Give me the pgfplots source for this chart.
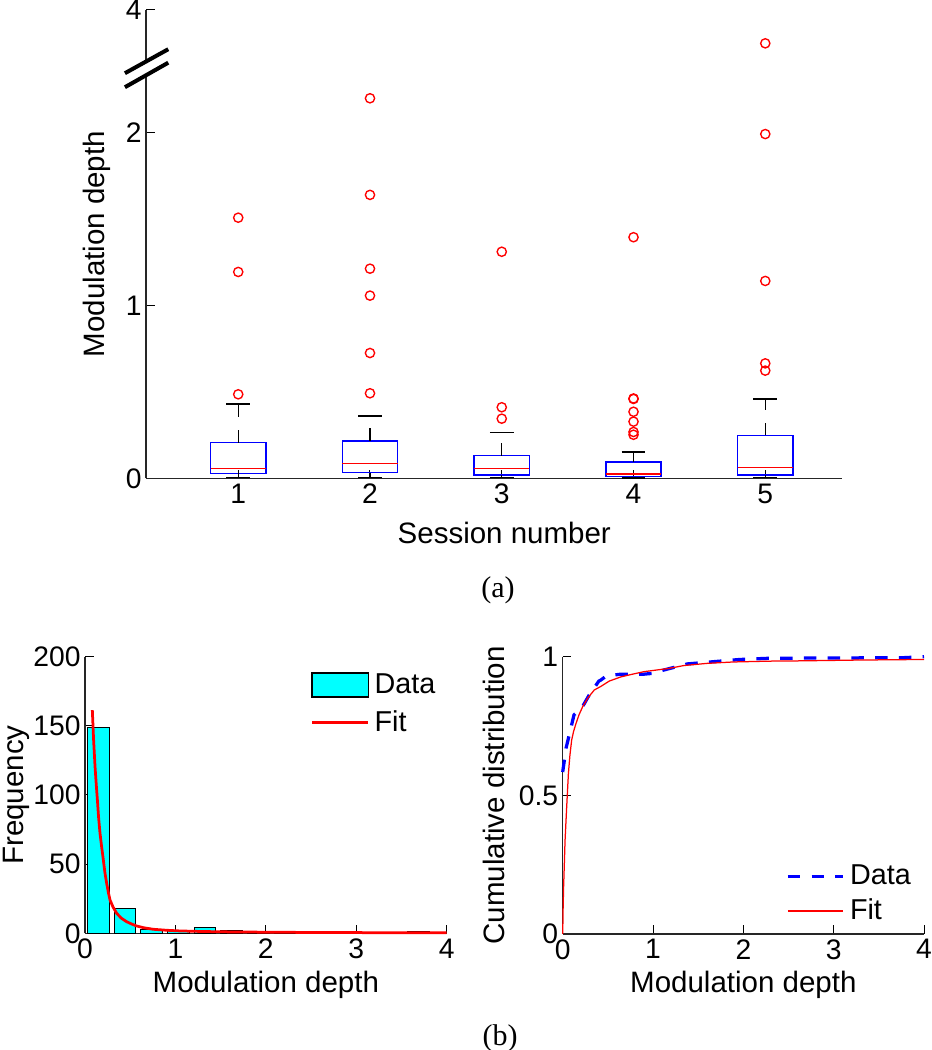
\documentclass[border=0pt]{standalone}
\usepackage{fontspec}
\setmainfont{Liberation Sans}
\newfontfamily\seriffont{Liberation Serif}
\usepackage{pgfplots}
\pgfplotsset{compat=1.18}
\usepgfplotslibrary{statistics}
\definecolor{mcyan}{RGB}{0,255,255}
\definecolor{mblue}{RGB}{0,0,255}
\definecolor{mred}{RGB}{255,0,0}
\newcommand{\labfont}{\fontsize{11.8}{13.5}\selectfont}
\pgfplotsset{
  mystyle/.style={
    scale only axis,
    axis x line*=bottom, axis y line*=left,
    tick align=inside, major tick length=3.4pt,
    tick style={black,line width=0.4pt},
    axis line style={black!85,line width=0.6pt},
    every tick label/.append style={font=\fontsize{11.3}{13}\selectfont},
    xticklabel style={inner sep=2pt},
    yticklabel style={inner sep=1.6pt},
    /pgf/number format/assume math mode=true,
    clip=false,
  },
  patchleg/.style={legend image code/.code={\draw[fill=mcyan,draw=black,line width=0.5pt] (0cm,-0.17cm) rectangle (0.79cm,0.17cm);}},
  redthickleg/.style={legend image code/.code={\draw[mred,line width=1.1pt] (0cm,0cm) -- (0.79cm,0cm);}},
  bluedashleg/.style={legend image code/.code={\draw[mblue,line width=1.3pt,dash pattern=on 5pt off 4.5pt] (0cm,0cm) -- (0.78cm,0cm);}},
  redthinleg/.style={legend image code/.code={\draw[mred,line width=0.5pt] (0cm,0cm) -- (0.78cm,0cm);}},
  whisk/.style={black, line width=0.45pt, dash pattern=on 5pt off 5.3pt},
  cap/.style={black, line width=0.5pt},
}
\begin{document}
\begin{tikzpicture}
\path[use as bounding box] (0pt,0pt) rectangle (372.4pt,420pt);
% ---------------- (a) box plot ----------------
\begin{axis}[mystyle,
  at={(58.4pt,228.68pt)}, anchor=south west,
  width=278.28pt, height=187.32pt,
  xmin=0.3, xmax=5.58, ymin=0, ymax=2.71,
  xtick={1,2,3,4,5}, ytick={0,1,2,2.71}, yticklabels={0,1,2,4},
  xlabel={Session number}, ylabel={Modulation depth},
  every axis x label/.style={at={(axis description cs:0.515,-0.117)},anchor=center,font=\labfont},
  every axis y label/.style={at={(axis description cs:-0.0704,0.5)},rotate=90,anchor=center,font=\labfont},
  boxplot/draw direction=y,
  boxplot/box extend=0.42,
  boxplot/whisker extend=0.18,
  boxplot/every box/.style={draw=mblue,line width=0.6pt},
  boxplot/every median/.style={draw=mred,line width=0.55pt},
  boxplot/every whisker/.style={draw=none},
]
% boxes and medians
\addplot[boxplot prepared={draw position=1, lower whisker=0.003, lower quartile=0.029, median=0.058, upper quartile=0.206, upper whisker=0.43}] coordinates {};
\addplot[boxplot prepared={draw position=2, lower whisker=0.003, lower quartile=0.033, median=0.087, upper quartile=0.216, upper whisker=0.36}] coordinates {};
\addplot[boxplot prepared={draw position=3, lower whisker=0.003, lower quartile=0.019, median=0.056, upper quartile=0.131, upper whisker=0.264}] coordinates {};
\addplot[boxplot prepared={draw position=4, lower whisker=0.002, lower quartile=0.009, median=0.025, upper quartile=0.094, upper whisker=0.152}] coordinates {};
\addplot[boxplot prepared={draw position=5, lower whisker=0.003, lower quartile=0.019, median=0.061, upper quartile=0.249, upper whisker=0.459}] coordinates {};
% whiskers (dashed) from the quartiles to the whisker ends
\addplot[whisk] coordinates {(1,0.206) (1,0.43)};
\addplot[whisk] coordinates {(1,0.029) (1,0.003)};
\addplot[whisk] coordinates {(2,0.216) (2,0.36)};
\addplot[whisk] coordinates {(2,0.033) (2,0.003)};
\addplot[whisk] coordinates {(3,0.131) (3,0.264)};
\addplot[whisk] coordinates {(3,0.019) (3,0.003)};
\addplot[whisk] coordinates {(4,0.094) (4,0.152)};
\addplot[whisk] coordinates {(4,0.009) (4,0.002)};
\addplot[whisk] coordinates {(5,0.249) (5,0.459)};
\addplot[whisk] coordinates {(5,0.019) (5,0.003)};
% whisker caps
\addplot[cap] coordinates {(0.91,0.43) (1.09,0.43)};
\addplot[cap] coordinates {(0.91,0.003) (1.09,0.003)};
\addplot[cap] coordinates {(1.91,0.36) (2.09,0.36)};
\addplot[cap] coordinates {(1.91,0.003) (2.09,0.003)};
\addplot[cap] coordinates {(2.91,0.264) (3.09,0.264)};
\addplot[cap] coordinates {(2.91,0.003) (3.09,0.003)};
\addplot[cap] coordinates {(3.91,0.152) (4.09,0.152)};
\addplot[cap] coordinates {(3.91,0.002) (4.09,0.002)};
\addplot[cap] coordinates {(4.91,0.459) (5.09,0.459)};
\addplot[cap] coordinates {(4.91,0.003) (5.09,0.003)};
% outliers (the top one of session 5 lies above the axis break; plotted at its display position)
\addplot[only marks, mark=o, mark size=1.85pt, mred, line width=0.55pt] coordinates {
 (1,0.486) (1,1.194) (1,1.508)
 (2,0.492) (2,0.725) (2,1.057) (2,1.213) (2,1.640) (2,2.199)
 (3,0.345) (3,0.411) (3,1.311)
 (4,0.252) (4,0.268) (4,0.328) (4,0.385) (4,0.459) (4,0.462) (4,1.395)
 (5,0.623) (5,0.665) (5,1.142) (5,1.992) (5,2.517)
};
% axis break marks
\fill[white] (axis cs:0.14,2.344) -- (axis cs:0.469,2.483) -- (axis cs:0.469,2.405) -- (axis cs:0.14,2.263) -- cycle;
\draw[black,line width=1.6pt] (axis cs:0.14,2.344) -- (axis cs:0.469,2.483);
\draw[black,line width=1.6pt] (axis cs:0.14,2.263) -- (axis cs:0.469,2.405);
\end{axis}
\node[font=\seriffont\fontsize{12}{14}\selectfont] at (199.2pt,184pt) {(a)};
% ---------------- (b) left: histogram ----------------
\begin{axis}[mystyle,
  at={(34pt,46.68pt)}, anchor=south west,
  width=144.68pt, height=110.64pt,
  xmin=0, xmax=4, ymin=0, ymax=200,
  xtick={0,1,2,3,4}, ytick={0,50,100,150,200},
  xlabel={Modulation depth}, ylabel={Frequency},
  every axis x label/.style={at={(axis description cs:0.5,-0.188)},anchor=center,font=\labfont},
  every axis y label/.style={at={(axis description cs:-0.19,0.5)},rotate=90,anchor=center,font=\labfont},
  legend style={draw=none, fill=none, at={(axis cs:2.49,192)}, anchor=north west,
    font=\fontsize{11.5}{13}\selectfont, inner xsep=0pt, inner ysep=0pt, row sep=1.4pt,
    /tikz/every even column/.append style={column sep=3pt}},
  legend cell align=left,
]
\addplot[ybar, bar width=0.24, fill=mcyan, draw=black, line width=0.4pt, patchleg]
  coordinates {(0.146,149) (0.441,18) (0.736,3) (1.031,2) (1.326,4) (1.621,2) (1.916,1) (2.211,1) (3.686,1)};
\addplot[mred, line width=1.1pt, redthickleg]
  coordinates {(0.081,161.4) (0.095,140) (0.111,120.5) (0.125,107) (0.137,96.4) (0.15,84)
   (0.166,72.3) (0.185,62) (0.203,53) (0.22,44) (0.24,36) (0.26,29) (0.277,24) (0.31,19)
   (0.35,14.5) (0.40,11) (0.46,8.4) (0.52,6.6) (0.57,5.3) (0.65,4) (0.756,2.9) (0.9,2.2)
   (1.05,1.7) (1.3,1.3) (1.6,1.0) (2.0,0.8) (2.5,0.6) (3.0,0.5) (3.5,0.4) (4.0,0.35)};
\legend{Data,Fit}
\end{axis}
% ---------------- (b) right: CDF ----------------
\begin{axis}[mystyle,
  at={(225.08pt,46.4pt)}, anchor=south west,
  width=144.52pt, height=110.92pt,
  xmin=0, xmax=4, ymin=0, ymax=1,
  xtick={0,1,2,3,4}, ytick={0,0.5,1},
  xlabel={Modulation depth}, ylabel={Cumulative distribution},
  every axis x label/.style={at={(axis description cs:0.5,-0.184)},anchor=center,font=\labfont},
  every axis y label/.style={at={(axis description cs:-0.19,0.5)},rotate=90,anchor=center,font=\labfont},
  legend style={draw=none, fill=none, at={(axis cs:2.47,0.27)}, anchor=north west,
    font=\fontsize{11.5}{13}\selectfont, inner xsep=0pt, inner ysep=0pt, row sep=0.2pt,
    /tikz/every even column/.append style={column sep=3pt}},
  legend cell align=left,
]
\addplot[mblue, line width=1.3pt, dash pattern=on 5pt off 4.5pt, bluedashleg]
  coordinates {(0,0.584) (0.037,0.67) (0.125,0.79) (0.22,0.82) (0.29,0.86) (0.40,0.912)
   (0.423,0.916) (0.48,0.93) (0.643,0.937) (0.9,0.937) (1.0,0.94) (1.12,0.952) (1.38,0.974)
   (1.67,0.982) (1.96,0.99) (2.26,0.994) (2.63,0.995) (3.0,0.995) (3.37,0.996) (3.74,0.996) (4.0,1.0)};
\addplot[mred, line width=0.5pt, redthinleg]
  coordinates {(0,0) (0.005,0.1) (0.01,0.17) (0.015,0.22) (0.026,0.337) (0.044,0.458)
   (0.063,0.578) (0.08,0.645) (0.099,0.699) (0.12,0.73) (0.147,0.759) (0.18,0.79) (0.22,0.819)
   (0.28,0.852) (0.35,0.88) (0.423,0.893) (0.515,0.912) (0.643,0.927) (0.773,0.937) (0.9,0.946)
   (1.18,0.958) (1.34,0.968) (1.6,0.976) (1.89,0.981) (2.3,0.984) (2.63,0.985) (3.3,0.988) (4.0,0.99)};
\legend{Data,Fit}
\end{axis}
\node[font=\seriffont\fontsize{12}{14}\selectfont] at (200pt,4.8pt) {(b)};
\end{tikzpicture}
\end{document}
